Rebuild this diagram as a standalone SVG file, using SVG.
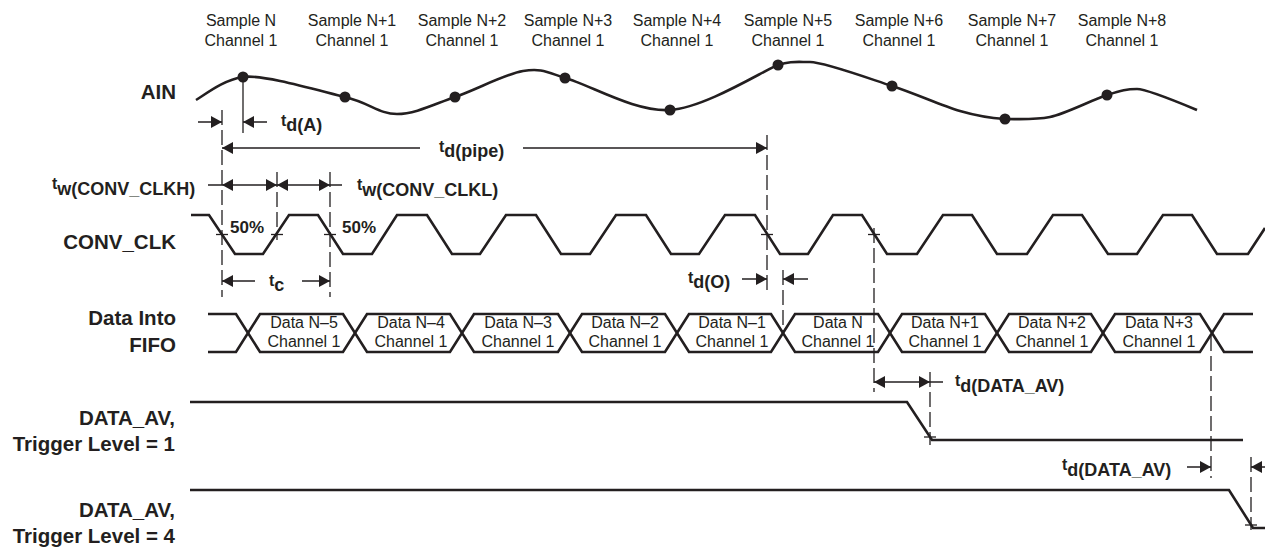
<svg xmlns="http://www.w3.org/2000/svg" xmlns:xlink="http://www.w3.org/1999/xlink" width="1265" height="547" viewBox="0 0 1265 547">
<style>
.sig{fill:none;stroke:#231f20;stroke-width:2.6;stroke-linejoin:miter}
.dim{fill:none;stroke:#231f20;stroke-width:1.3}
.dash{fill:none;stroke:#231f20;stroke-width:1.3;stroke-dasharray:15 5}
.lbl{font-family:"Liberation Sans",Arial,sans-serif;font-weight:bold;font-size:20.5px;fill:#231f20;text-anchor:end}
.smp{font-family:"Liberation Sans",Arial,sans-serif;font-size:16px;fill:#231f20;text-anchor:middle}
.tm{font-family:"Liberation Sans",Arial,sans-serif;font-weight:bold;font-size:16px;fill:#231f20}
.sub{font-size:18px}
.pct{font-family:"Liberation Sans",Arial,sans-serif;font-weight:bold;font-size:17px;fill:#231f20}
.dot{fill:#231f20}
</style>
<defs>
<polygon id="aR" points="-11,-6 0,0 -11,6" fill="#231f20"/>
<polygon id="aL" points="11,-6 0,0 11,6" fill="#231f20"/>
<path id="tick" d="M-6,0 H6" stroke="#231f20" stroke-width="1.3"/>
</defs>
<rect width="1265" height="547" fill="#ffffff"/>

<g id="sample-labels">
<text class="smp" x="241" y="26">Sample N</text><text class="smp" x="241" y="46">Channel 1</text>
<text class="smp" x="352" y="26">Sample N+1</text><text class="smp" x="352" y="46">Channel 1</text>
<text class="smp" x="462" y="26">Sample N+2</text><text class="smp" x="462" y="46">Channel 1</text>
<text class="smp" x="568" y="26">Sample N+3</text><text class="smp" x="568" y="46">Channel 1</text>
<text class="smp" x="677" y="26">Sample N+4</text><text class="smp" x="677" y="46">Channel 1</text>
<text class="smp" x="788" y="26">Sample N+5</text><text class="smp" x="788" y="46">Channel 1</text>
<text class="smp" x="899" y="26">Sample N+6</text><text class="smp" x="899" y="46">Channel 1</text>
<text class="smp" x="1012" y="26">Sample N+7</text><text class="smp" x="1012" y="46">Channel 1</text>
<text class="smp" x="1122" y="26">Sample N+8</text><text class="smp" x="1122" y="46">Channel 1</text>
</g>

<g id="signal-labels">
<text class="lbl" x="176" y="99">AIN</text>
<text class="lbl" x="176" y="249">CONV_CLK</text>
<text class="lbl" x="176" y="325">Data Into</text>
<text class="lbl" x="176" y="352">FIFO</text>
<text class="lbl" x="175" y="425">DATA_AV,</text>
<text class="lbl" x="175" y="451">Trigger Level = 1</text>
<text class="lbl" x="175" y="517">DATA_AV,</text>
<text class="lbl" x="175" y="543">Trigger Level = 4</text>
</g>

<g id="ain">
<path class="sig" d="M196,100 C206,94 223,80 243,77 C263,74 319.3,90.8 345,97 C370.7,103.2 378.7,114 397,114 C415.3,114 434,104.2 455,97 C476,89.8 504.7,74.2 523,71 C541.3,67.8 547.2,72.2 565,78 C589.5,84.5 634.5,112.2 670,110 C705.5,107.8 766,69 778,65 C790,61 796,62 810,62 C824,62 867,77.8 892,86 C917,94.2 941.2,105.5 960,111 C978.8,116.5 990,118 1005,119 C1020,119 1035,120 1050,117 C1065,114 1092.5,99.7 1107,95 C1121.5,90.3 1127,89 1137,89 C1147,89 1185,105 1197,110"/>
<circle class="dot" cx="243" cy="77" r="5.5"/>
<circle class="dot" cx="345" cy="97" r="5.5"/>
<circle class="dot" cx="455" cy="97" r="5.5"/>
<circle class="dot" cx="565" cy="78" r="5.5"/>
<circle class="dot" cx="670" cy="110" r="5.5"/>
<circle class="dot" cx="778" cy="65" r="5.5"/>
<circle class="dot" cx="892" cy="86" r="5.5"/>
<circle class="dot" cx="1005" cy="119" r="5.5"/>
<circle class="dot" cx="1107" cy="95" r="5.5"/>
</g>

<g id="conv-clk">
<path class="sig" d="M191,215 H209 L235,254 H263 L289,215 H318 L343,254 H372 L397,215 H427 L452,254 H480 L506,215 H536 L561,254 H590 L616,215 H646 L671,254 H699 L725,215 H755 L780,254 H808 L833,215 H862 L887,254 H917 L943,215 H972 L997,254 H1027 L1053,215 H1082 L1108,254 H1137 L1163,215 H1192 L1217,254 H1248 L1265,228"/>
<text class="pct" x="230" y="233">50%</text>
<text class="pct" x="342" y="233">50%</text>
</g>

<g id="data-fifo">
<path class="sig" d="M208,314 H236 L248,333 L236,352 H208"/>
<path class="sig" d="M248,333 L260,314 H343 L355,333 L343,352 H260 Z"/>
<path class="sig" d="M355,333 L367,314 H450 L462,333 L450,352 H367 Z"/>
<path class="sig" d="M462,333 L474,314 H558 L570,333 L558,352 H474 Z"/>
<path class="sig" d="M570,333 L582,314 H665 L677,333 L665,352 H582 Z"/>
<path class="sig" d="M677,333 L689,314 H771 L783,333 L771,352 H689 Z"/>
<path class="sig" d="M783,333 L795,314 H878 L890,333 L878,352 H795 Z"/>
<path class="sig" d="M890,333 L902,314 H985 L997,333 L985,352 H902 Z"/>
<path class="sig" d="M997,333 L1009,314 H1091 L1103,333 L1091,352 H1009 Z"/>
<path class="sig" d="M1103,333 L1115,314 H1200 L1212,333 L1200,352 H1115 Z"/>
<path class="sig" d="M1212,333 L1224,314 H1253 M1212,333 L1224,352 H1253"/>
<text class="smp" x="304" y="328">Data N–5</text><text class="smp" x="304" y="347">Channel 1</text>
<text class="smp" x="411" y="328">Data N–4</text><text class="smp" x="411" y="347">Channel 1</text>
<text class="smp" x="518" y="328">Data N–3</text><text class="smp" x="518" y="347">Channel 1</text>
<text class="smp" x="625" y="328">Data N–2</text><text class="smp" x="625" y="347">Channel 1</text>
<text class="smp" x="732" y="328">Data N–1</text><text class="smp" x="732" y="347">Channel 1</text>
<text class="smp" x="838" y="328">Data N</text><text class="smp" x="838" y="347">Channel 1</text>
<text class="smp" x="945" y="328">Data N+1</text><text class="smp" x="945" y="347">Channel 1</text>
<text class="smp" x="1052" y="328">Data N+2</text><text class="smp" x="1052" y="347">Channel 1</text>
<text class="smp" x="1159" y="328">Data N+3</text><text class="smp" x="1159" y="347">Channel 1</text>
</g>

<g id="data-av-1">
<path class="sig" d="M190,402 H907 L932,440 H1243"/>
</g>
<g id="data-av-4">
<path class="sig" d="M190,490 H1229 L1253,528 H1265"/>
</g>

<g id="connectors">
<!-- extension lines -->
<path class="dash" d="M222,110 V297"/>
<path class="dim" d="M243,77 V133"/>
<path class="dash" d="M277,172 V240"/>
<path class="dash" d="M330,172 V297"/>
<path class="dash" d="M767,135 V292"/>
<path class="dash" d="M783,270 V334"/>
<path class="dash" d="M874,228 V392"/>
<path class="dash" d="M930,372 V445"/>
<path class="dash" d="M1211,336 V478"/>
<path class="dash" d="M1251,457 V530"/>
<!-- crosshair ticks -->
<use xlink:href="#tick" x="222" y="234.5"/>
<use xlink:href="#tick" x="277" y="234.5"/>
<use xlink:href="#tick" x="330" y="234.5"/>
<use xlink:href="#tick" x="767" y="234.5"/>
<use xlink:href="#tick" x="874" y="234.5"/>
<use xlink:href="#tick" x="930" y="437"/>
<use xlink:href="#tick" x="1251" y="525"/>
<!-- t_d(A) -->
<path class="dim" d="M198,122 H222 M243,122 H267"/>
<use xlink:href="#aR" x="222" y="122"/>
<use xlink:href="#aL" x="243" y="122"/>
<!-- t_d(pipe) -->
<path class="dim" d="M222,148 H420 M523,148 H767"/>
<use xlink:href="#aL" x="222" y="148"/>
<use xlink:href="#aR" x="767" y="148"/>
<!-- t_w -->
<path class="dim" d="M208,185 H342"/>
<use xlink:href="#aL" x="222" y="185"/>
<use xlink:href="#aR" x="277" y="185"/>
<use xlink:href="#aL" x="277" y="185"/>
<use xlink:href="#aR" x="330" y="185"/>
<!-- t_c -->
<path class="dim" d="M222,281 H255 M302,281 H330"/>
<use xlink:href="#aL" x="222" y="281"/>
<use xlink:href="#aR" x="330" y="281"/>
<!-- t_d(O) -->
<path class="dim" d="M742,279 H767 M783,279 H808"/>
<use xlink:href="#aR" x="767" y="279"/>
<use xlink:href="#aL" x="783" y="279"/>
<!-- t_d(DATA_AV) 1 -->
<path class="dim" d="M874,382 H943"/>
<use xlink:href="#aL" x="874" y="382"/>
<use xlink:href="#aR" x="930" y="382"/>
<!-- t_d(DATA_AV) 2 -->
<path class="dim" d="M1187,467 H1211 M1251,467 H1265"/>
<use xlink:href="#aR" x="1211" y="467"/>
<use xlink:href="#aL" x="1251" y="467"/>
</g>

<g id="timing-labels">
<text class="tm" x="281" y="126">t<tspan class="sub" dy="5">d(A)</tspan></text>
<text class="tm" x="439" y="152">t<tspan class="sub" dy="5">d(pipe)</tspan></text>
<text class="tm" x="52" y="189">t<tspan class="sub" dy="6">w(CONV_CLKH)</tspan></text>
<text class="tm" x="357" y="190">t<tspan class="sub" dy="6">w(CONV_CLKL)</tspan></text>
<text class="tm" x="269" y="286">t<tspan class="sub" dy="5">c</tspan></text>
<text class="tm" x="688" y="283">t<tspan class="sub" dy="5">d(O)</tspan></text>
<text class="tm" x="955" y="386">t<tspan class="sub" dy="6">d(DATA_AV)</tspan></text>
<text class="tm" x="1062" y="470">t<tspan class="sub" dy="6">d(DATA_AV)</tspan></text>
</g>
</svg>
